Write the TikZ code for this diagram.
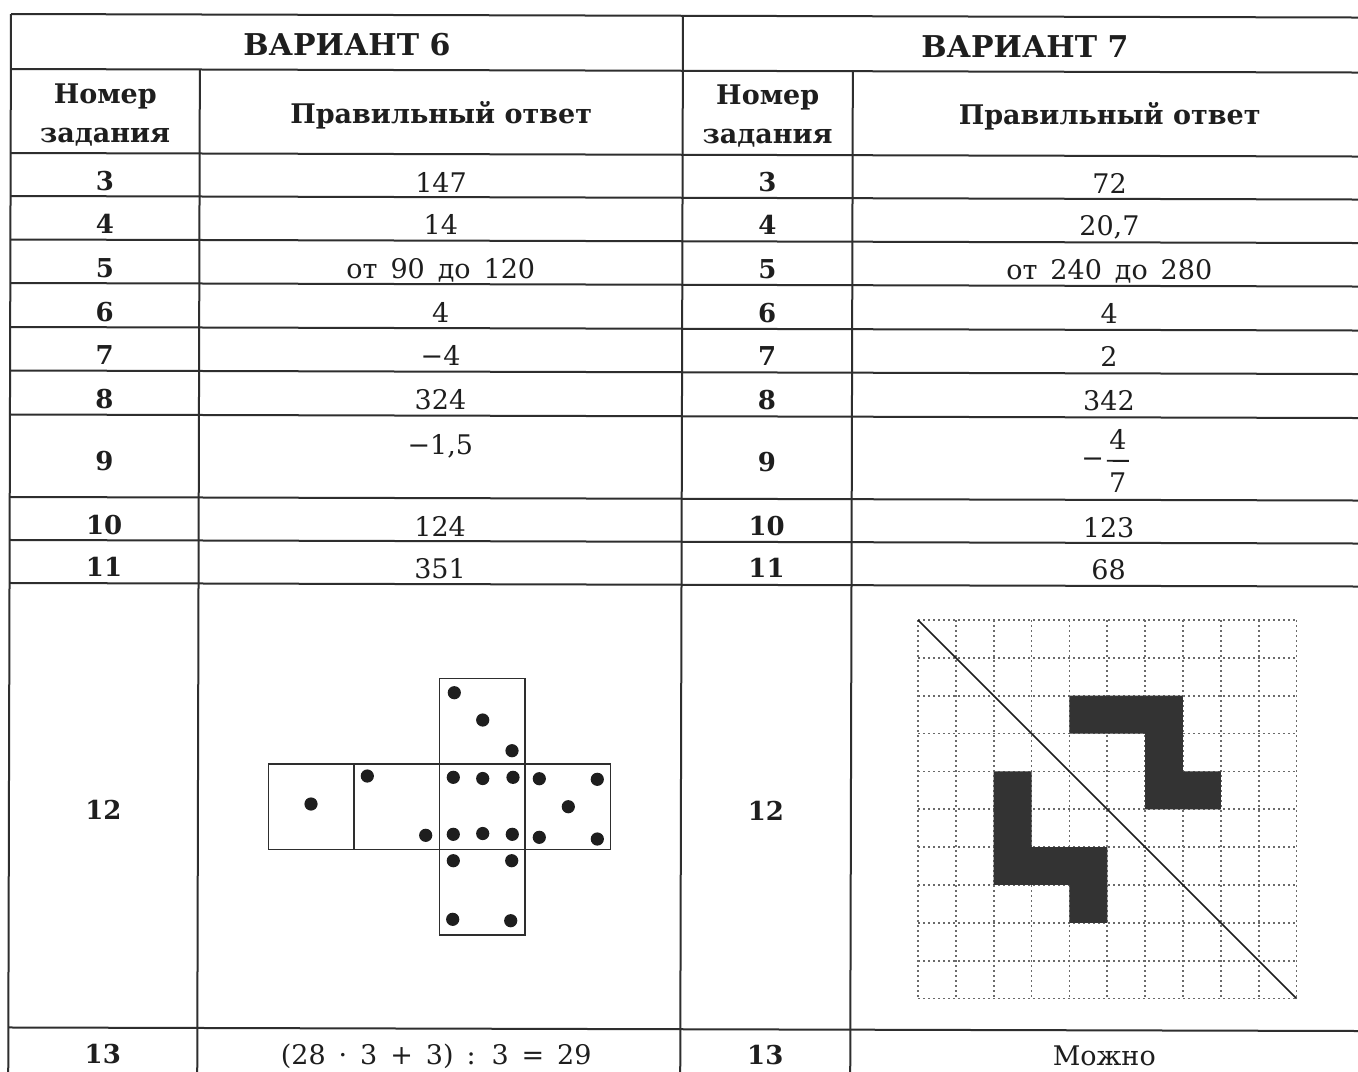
\documentclass[tikz,border=0pt]{standalone}
\usepackage{fontspec}
\setmainfont{DejaVu Serif}
\definecolor{ink}{HTML}{1E1E1E}
\definecolor{rulec}{HTML}{2E2E2E}
\definecolor{figfill}{HTML}{333333}
\definecolor{gridc}{HTML}{6A6A6A}
\newcommand\ansfont{\fontsize{13.5}{16}\selectfont\spaceskip=0.48em\relax}
\begin{document}
\begin{tikzpicture}[x=0.5pt,y=-0.5pt,
  tline/.style={line width=1pt,draw=rulec},
  hdr/.style={font=\bfseries\fontsize{15}{18}\selectfont,anchor=base,inner sep=0pt,text=ink},
  colh/.style={font=\bfseries\fontsize{13.5}{16}\selectfont,anchor=base,inner sep=0pt,text=ink},
  num/.style={font=\bfseries\fontsize{13}{15}\selectfont,anchor=base,inner sep=0pt,text=ink},
  ans/.style={font=\ansfont,anchor=base,inner sep=0pt,text=ink},
  netline/.style={line width=0.8pt,draw=rulec},
  pip/.style={fill=ink},
  gridline/.style={line width=0.9pt,draw=gridc,dash pattern=on 0.9pt off 1.6pt}
]
\useasboundingbox (0,0) rectangle (1358,1071);
\clip (0,0) rectangle (1358,1071);
\fill[white] (0,0) rectangle (1358,1071);

% ---------- table (slightly rotated like the scan) ----------
\begin{scope}[rotate around={-0.15:(11,14)}]
  \foreach \yy in {14,69,153,196,239.5,283,327,370.5,414.5,497,540,583,1027.5}
    \draw[tline] (11,\yy) -- (1367,\yy);
  \draw[tline] (11,14) -- (11,1100);
  \draw[tline] (683,14) -- (683,1100);
  \draw[tline] (200,69) -- (200,1100);
  \draw[tline] (853,69) -- (853,1100);
  \draw[tline] (1367,14) -- (1367,1100);

  % headers
  \node[hdr] (v6) at (347,55) {ВАРИАНТ 6};
  \node[hdr] (v7) at (1025,55) {ВАРИАНТ 7};
  \node[colh] (nL1) at (105.5,103) {Номер};
  \node[colh] (nL2) at (105.5,142) {задания};
  \node[colh] (aL) at (441.5,122) {Правильный ответ};
  \node[colh] (nR1) at (768,103) {Номер};
  \node[colh] (nR2) at (768,142) {задания};
  \node[colh] (aR) at (1110,122) {Правильный ответ};

  % left variant
  \node[num] (l3) at (105.5,190) {3};   \node[ans] (a3) at (441.5,191) {147};
  \node[num] (l4) at (105.5,233) {4};   \node[ans] (a4) at (441.5,233) {14};
  \node[num] (l5) at (105.5,277) {5};   \node[ans] (a5) at (441.5,277) {от 90 до 120};
  \node[num] (l6) at (105.5,321) {6};   \node[ans] (a6) at (441.5,321) {4};
  \node[num] (l7) at (105.5,364) {7};   \node[ans] (a7) at (441.5,364) {−4};
  \node[num] (l8) at (105.5,408) {8};   \node[ans] (a8) at (441.5,408) {324};
  \node[num] (l9) at (105.5,470) {9};   \node[ans] (a9) at (441.5,453) {−1,5};
  \node[num] (l10) at (105.5,534) {10}; \node[ans] (a10) at (441.5,535) {124};
  \node[num] (l11) at (105.5,576) {11}; \node[ans] (a11) at (441.5,577) {351};
  \node[num] (l12) at (105.5,819) {12};
  \node[num] (l13) at (105.5,1063) {13};
  \node[ans] (a13) at (439,1063) {(28 · 3 + 3) : 3 = 29};

  % right variant
  \node[num] (r3) at (768,190) {3};   \node[ans] (b3) at (1110,191) {72};
  \node[num] (r4) at (768,233) {4};   \node[ans] (b4) at (1110,233) {20,7};
  \node[num] (r5) at (768,277) {5};   \node[ans] (b5) at (1110,277) {от 240 до 280};
  \node[num] (r6) at (768,321) {6};   \node[ans] (b6) at (1110,321) {4};
  \node[num] (r7) at (768,364) {7};   \node[ans] (b7) at (1110,364) {2};
  \node[num] (r8) at (768,408) {8};   \node[ans] (b8) at (1110,408) {342};
  \node[num] (r9) at (768,470) {9};
  \node[ans] (bminus) at (1094,465) {−};
  \node[ans] (bnum) at (1119,447) {4};
  \node[ans] (bden) at (1119,490) {7};
  \coordinate (barL) at (1108,458);
  \coordinate (barR) at (1130,458);
  \draw[line width=0.9pt,draw=ink] (barL) -- (barR);
  \node[num] (r10) at (768,534) {10}; \node[ans] (b10) at (1110,535) {123};
  \node[num] (r11) at (768,576) {11}; \node[ans] (b11) at (1110,577) {68};
  \node[num] (r12) at (768,819) {12};
  \node[num] (r13) at (768,1063) {13};
  \node[ans] (b13) at (1107,1063) {Можно};
\end{scope}

% ---------- dice net ----------
\draw[netline] (439.5,678.5) rectangle (525,764);
\draw[netline] (268.5,764) rectangle (354,849.5);
\draw[netline] (354,764) rectangle (439.5,849.5);
\draw[netline] (439.5,764) rectangle (525,849.5);
\draw[netline] (525,764) rectangle (610.5,849.5);
\draw[netline] (439.5,849.5) rectangle (525,935);
\foreach \px/\py in {454.3/692.7, 482.7/720, 512/750.7,
  311/804,
  367.3/776, 425.7/835.3,
  453.3/777.3, 482.7/778.5, 513/777.3, 453.3/834.3, 482.7/833.5, 512.3/834.3,
  539.3/778.7, 597.3/779.3, 568.3/806.7, 539.3/837.3, 597.3/839,
  453.3/860.7, 511.7/860.7, 452.7/919.3, 510.7/920.7}
  \fill[pip] (\px,\py) circle[radius=3.3pt];

% ---------- grid with figures ----------
\foreach \i in {0,...,10} {
  \draw[gridline] ({918+\i*37.85},620) -- ({918+\i*37.85},998.5);
  \draw[gridline] (918,{620+\i*37.85}) -- (1296.5,{620+\i*37.85});
}
\begin{scope}[shift={(918,620)},x=18.925pt,y=-18.925pt]
  \fill[figfill] (4,2) -- (7,2) -- (7,4) -- (8,4) -- (8,5) -- (6,5) -- (6,3) -- (4,3) -- cycle;
  \fill[figfill] (2,4) -- (3,4) -- (3,6) -- (5,6) -- (5,8) -- (4,8) -- (4,7) -- (2,7) -- cycle;
  \draw[line width=0.8pt,draw=ink] (0,0) -- (10,10);
\end{scope}
\end{tikzpicture}
\end{document}
